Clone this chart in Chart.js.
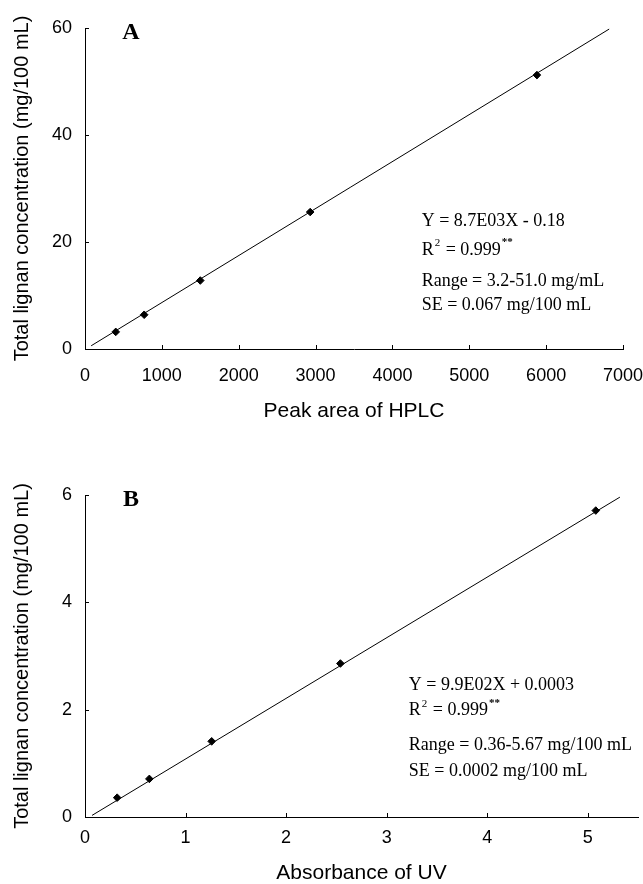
<!DOCTYPE html>
<html>
<head>
<meta charset="utf-8">
<script src="https://cdn.jsdelivr.net/npm/chart.js@4.4.1/dist/chart.umd.min.js"></script>
<style>
    html, body { margin: 0; padding: 0; background: #fff; }
    #wrapA { position: absolute; left: 0; top: 0; width: 643px; height: 430px; }
    #wrapB { position: absolute; left: 0; top: 430px; width: 643px; height: 454px; }
</style>
</head>
<body>
<div id="wrapA"><canvas id="chartA"></canvas></div>
<div id="wrapB"><canvas id="chartB"></canvas></div>
<script>
// Panel A - HPLC peak area
const peakAreaHplc = [400, 770, 1500, 2930, 5880];
const lignanA = [3.2, 6.4, 12.8, 25.6, 51.2];
const fitAx = [80, 6820];
const fitAy = [0.6, 59.8];
const notesA = ['Y = 8.7E03X - 0.18', '0.999', 'Range = 3.2-51.0 mg/mL', 'SE = 0.067 mg/100 mL'];

// Panel B - UV absorbance
const absorbanceUv = [0.32, 0.64, 1.26, 2.54, 5.08];
const lignanB = [0.36, 0.71, 1.41, 2.86, 5.71];
const fitBx = [0.07, 5.32];
const fitBy = [0.03, 5.96];
const notesB = ['Y = 9.9E02X + 0.0003', '0.999', 'Range = 0.36-5.67 mg/100 mL', 'SE = 0.0002 mg/100 mL'];

const yTitle = 'Total lignan concentration (mg/100 mL)';
const sans = "'Liberation Sans', Arial, sans-serif";
const serif = "'Liberation Serif', 'Times New Roman', serif";

const toPoints = (xs, ys) => xs.map((x, i) => ({ x: x, y: ys[i] }));

// draws inward tick marks, panel letter and the regression notes
const makeDeco = (cfg) => ({
    id: 'deco' + cfg.letter,
    afterDraw(chart) {
        const ctx = chart.ctx;
        const xs = chart.scales.x, ys = chart.scales.y;
        const area = chart.chartArea;
        ctx.save();
        ctx.strokeStyle = '#000';
        ctx.lineWidth = 1;
        ctx.beginPath();
        xs.ticks.forEach(t => {
            if (t.value === 0) return;
            const px = Math.round(xs.getPixelForValue(t.value)) + 0.5;
            ctx.moveTo(px, area.bottom);
            ctx.lineTo(px, area.bottom - 4);
        });
        ys.ticks.forEach(t => {
            if (t.value === 0) return;
            const py = Math.round(ys.getPixelForValue(t.value)) + 0.5;
            ctx.moveTo(area.left, py);
            ctx.lineTo(area.left + 4, py);
        });
        ctx.stroke();

        ctx.fillStyle = '#000';
        ctx.textBaseline = 'middle';
        ctx.textAlign = 'center';
        ctx.font = 'bold 24px ' + serif;
        ctx.fillText(cfg.letter, area.left + 46, area.top + 5);

        ctx.textAlign = 'left';
        const x0 = xs.getPixelForValue(cfg.noteX);
        cfg.noteY.forEach((v, i) => {
            const py = ys.getPixelForValue(v);
            ctx.font = '18px ' + serif;
            if (i === 1) {
                let x = x0;
                ctx.fillText('R', x, py);
                x += ctx.measureText('R').width + 1;
                ctx.font = '11px ' + serif;
                ctx.fillText('2', x, py - 7);
                x += ctx.measureText('2').width + 1;
                ctx.font = '18px ' + serif;
                const s = ' = ' + cfg.notes[1];
                ctx.fillText(s, x, py);
                x += ctx.measureText(s).width + 1;
                ctx.font = 'bold 11px ' + serif;
                ctx.fillText('**', x, py - 8);
            } else {
                ctx.fillText(cfg.notes[i], x0, py);
            }
        });
        ctx.restore();
    }
});

const makeChart = (id, cfg) => {
    const ctx = document.getElementById(id).getContext('2d');
    return new Chart(ctx, {
        type: 'scatter',
        data: {
            datasets: [
                {
                    data: toPoints(cfg.fitX, cfg.fitY),
                    showLine: true,
                    borderColor: '#000',
                    borderWidth: 1,
                    pointRadius: 0
                },
                {
                    data: toPoints(cfg.xs, cfg.ys),
                    pointStyle: 'rectRot',
                    pointRadius: 3.8,
                    backgroundColor: '#000',
                    borderColor: '#000',
                    borderWidth: 1
                }
            ]
        },
        options: {
            responsive: true,
            maintainAspectRatio: false,
            animation: false,
            layout: { padding: cfg.padding },
            plugins: { legend: { display: false }, tooltip: { enabled: false } },
            scales: {
                x: {
                    type: 'linear',
                    min: 0,
                    max: cfg.xMax,
                    grid: { display: false, drawTicks: false },
                    border: { display: true, color: '#000', width: 1 },
                    ticks: {
                        stepSize: cfg.xStep,
                        includeBounds: false,
                        padding: cfg.xTickPad,
                        color: '#000',
                        font: { family: sans, size: 18 },
                        callback: (v) => String(v)
                    },
                    title: {
                        display: true,
                        text: cfg.xTitle,
                        color: '#000',
                        font: { family: sans, size: 21, lineHeight: 1 },
                        padding: { top: 0, bottom: cfg.xTitlePad }
                    },
                    afterFit: (s) => {
                        s.height = cfg.xHeight;
                        s.paddingRight = 0;
                        s.paddingLeft = 0;
                    }
                },
                y: {
                    type: 'linear',
                    min: 0,
                    max: cfg.yMax,
                    grid: { display: false, drawTicks: false },
                    border: { display: true, color: '#000', width: 1 },
                    ticks: {
                        stepSize: cfg.yStep,
                        padding: 13,
                        color: '#000',
                        font: { family: sans, size: 18 },
                        callback: (v) => String(v)
                    },
                    title: {
                        display: true,
                        text: yTitle,
                        color: '#000',
                        font: { family: sans, size: 20, lineHeight: 1 },
                        padding: { top: 12, bottom: 0 }
                    },
                    afterFit: (s) => { s.width = 85; }
                }
            }
        },
        plugins: [makeDeco(cfg)]
    });
};

makeChart('chartA', {
    letter: 'A',
    xs: peakAreaHplc, ys: lignanA, fitX: fitAx, fitY: fitAy,
    xMax: 7000, xStep: 1000, yMax: 60, yStep: 20,
    xTitle: 'Peak area of HPLC',
    padding: { top: 28, right: 20, bottom: 0, left: 0 },
    xHeight: 81, xTickPad: 16, xTitlePad: 8,
    notes: notesA, noteX: 4380, noteY: [23.8, 18.4, 12.75, 8.25]
});

makeChart('chartB', {
    letter: 'B',
    xs: absorbanceUv, ys: lignanB, fitX: fitBx, fitY: fitBy,
    xMax: 5.5, xStep: 1, yMax: 6, yStep: 2,
    xTitle: 'Absorbance of UV',
    padding: { top: 65, right: 4, bottom: 0, left: 0 },
    xHeight: 67, xTickPad: 10, xTitlePad: 0,
    notes: notesB, noteX: 3.22, noteY: [2.46, 1.98, 1.34, 0.86]
});
</script>
</body>
</html>
